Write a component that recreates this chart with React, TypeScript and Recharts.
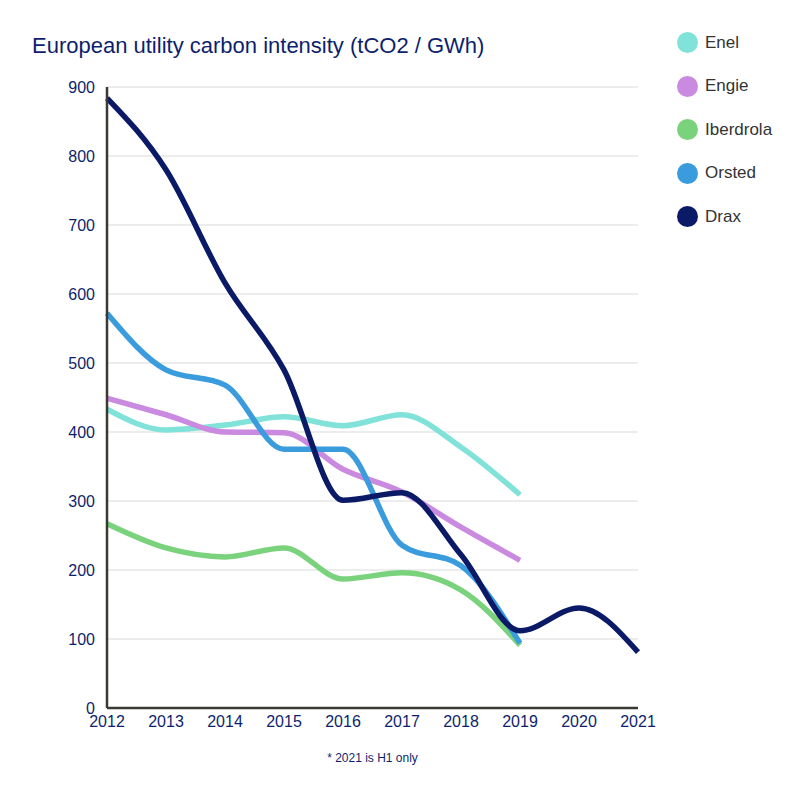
import {
  LineChart,
  Line,
  XAxis,
  YAxis,
  CartesianGrid,
} from "recharts";

const YEARS = [2012, 2013, 2014, 2015, 2016, 2017, 2018, 2019, 2020, 2021];
const ENEL = [433, 403, 410, 422, 409, 425, 378, 309];
const ENGIE = [449, 425, 400, 399, 346, 313, 262, 214];
const IBERDROLA = [267, 232, 219, 232, 187, 196, 171, 91];
const ORSTED = [572, 490, 468, 375, 375, 236, 206, 94];
const DRAX = [884, 780, 616, 490, 301, 312, 222, 112, 145, 81];
const Y_TICKS = [0, 100, 200, 300, 400, 500, 600, 700, 800, 900];

const SERIES = [
  { key: "Enel", values: ENEL, color: "#80e2d8" },
  { key: "Engie", values: ENGIE, color: "#c98adf" },
  { key: "Iberdrola", values: IBERDROLA, color: "#7ad37c" },
  { key: "Orsted", values: ORSTED, color: "#3a9bdd" },
  { key: "Drax", values: DRAX, color: "#0b1a66" },
];

const NAVY = "#0e1f6e";
const FONT = '"Liberation Sans", Arial, Helvetica, sans-serif';

const data = YEARS.map((year, i) => {
  const row: Record<string, number | null> = { year };
  SERIES.forEach((s) => {
    row[s.key] = i < s.values.length ? s.values[i] : null;
  });
  return row;
});

function LegendBox() {
  return (
    <div style={{ position: "absolute", left: 677, top: 21 }}>
      {SERIES.map((s) => (
        <div
          key={s.key}
          style={{ display: "flex", alignItems: "center", height: 43.5 }}
        >
          <span
            style={{
              display: "inline-block",
              width: 21,
              height: 21,
              borderRadius: 11,
              background: s.color,
              marginRight: 7,
            }}
          />
          <span style={{ fontSize: 17, color: "#333", fontFamily: FONT }}>
            {s.key}
          </span>
        </div>
      ))}
    </div>
  );
}

export default function App() {
  return (
    <div
      style={{
        position: "absolute",
        left: 0,
        top: 0,
        width: 800,
        height: 800,
        background: "#fff",
        fontFamily: FONT,
      }}
    >
      <div
        style={{
          position: "absolute",
          left: 32,
          top: 33,
          fontSize: 22,
          color: NAVY,
          whiteSpace: "nowrap",
        }}
      >
        European utility carbon intensity (tCO2 / GWh)
      </div>
      <LineChart
        width={800}
        height={800}
        data={data}
        margin={{ top: 87, right: 162, left: 0, bottom: 62 }}
      >
        <CartesianGrid vertical={false} stroke="#d9d9d9" strokeWidth={1} />
        <XAxis
          dataKey="year"
          type="number"
          domain={[2012, 2021]}
          ticks={YEARS}
          height={30}
          axisLine={{ stroke: "#3a3a33", strokeWidth: 2.5 }}
          tickLine={false}
          tickSize={0}
          tickMargin={8}
          tick={{ fill: NAVY, fontSize: 16, fontFamily: FONT }}
        />
        <YAxis
          type="number"
          domain={[0, 900]}
          ticks={Y_TICKS}
          width={107}
          axisLine={{ stroke: "#3a3a33", strokeWidth: 2.5 }}
          tickLine={false}
          tickSize={0}
          tickMargin={12}
          tick={{ fill: NAVY, fontSize: 16, fontFamily: FONT }}
        />
        {SERIES.map((s) => (
          <Line
            key={s.key}
            type="monotone"
            dataKey={s.key}
            stroke={s.color}
            strokeWidth={5.5}
            dot={false}
            activeDot={false}
            connectNulls={false}
            isAnimationActive={false}
          />
        ))}
      </LineChart>
      <LegendBox />
      <div
        style={{
          position: "absolute",
          left: 0,
          width: 745,
          top: 751,
          textAlign: "center",
          fontSize: 12,
          color: NAVY,
        }}
      >
        * 2021 is H1 only
      </div>
    </div>
  );
}
